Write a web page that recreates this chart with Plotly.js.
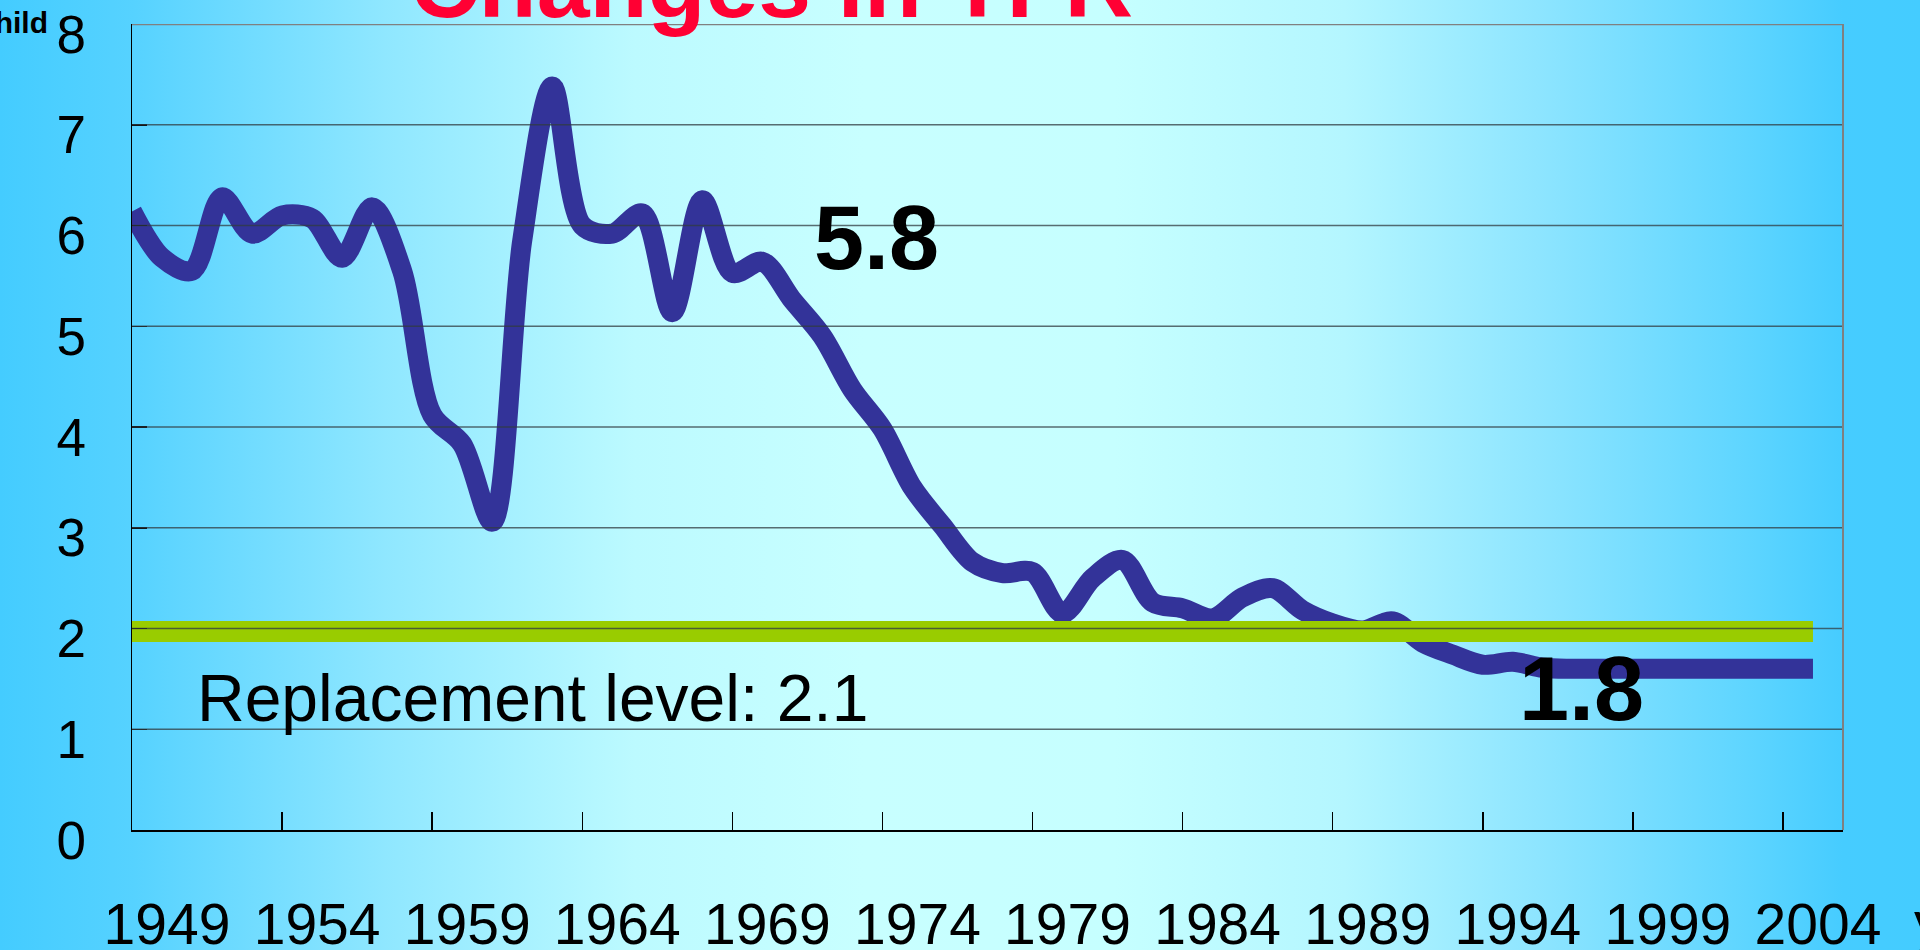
<!DOCTYPE html>
<html>
<head>
<meta charset="utf-8">
<script src="https://cdn.plot.ly/plotly-3.0.1.min.js"></script>
<style>
  html, body { margin: 0; padding: 0; }
  body { width: 1920px; height: 950px; overflow: hidden;
    background: linear-gradient(to right, #44CCFF 0%, #56D2FF 7%, #8FE7FF 20%, #BCFAFF 33%, #C8FFFF 45%, #C6FFFF 58%, #B4F6FF 70%, #8EE5FF 80%, #5ED5FF 91%, #46CCFF 96%, #44CCFF 100%); }
  #chart { width: 1920px; height: 950px; }
</style>
</head>
<body>
<div id="chart"></div>
<script>
// ---- data ----
const years = [1949,1950,1951,1952,1953,1954,1955,1956,1957,1958,1959,1960,1961,1962,1963,1964,1965,1966,1967,1968,
  1969,1970,1971,1972,1973,1974,1975,1976,1977,1978,1979,1980,1981,1982,1983,1984,1985,1986,1987,1988,
  1989,1990,1991,1992,1993,1994,1995,1996,1997,1998,1999,2000,2001,2002,2003,2004,2005];
const tfr = [6.14,5.68,5.55,6.28,5.92,6.10,6.07,5.68,6.18,5.55,4.12,3.83,3.06,5.85,7.38,6.00,5.92,6.12,5.14,6.25,
  5.53,5.64,5.26,4.90,4.37,3.98,3.40,3.02,2.66,2.55,2.56,2.15,2.50,2.68,2.26,2.20,2.10,2.31,2.40,2.18,
  2.05,1.98,2.07,1.86,1.74,1.64,1.67,1.61,1.60,1.60,1.60,1.60,1.60,1.60,1.60,1.60,1.60];
const replacementLevel = 1.97;
const replacementYears = [1949, 2005];
const xTickYears = [1949,1954,1959,1964,1969,1974,1979,1984,1989,1994,1999,2004];
const xTickLabels = ["1949","1954","1959","1964","1969","1974","1979","1984","1989","1994","1999","2004"];
const yTicks = [0,1,2,3,4,5,6,7,8];
const titleText = "Changes in TFR";
const yUnitText = "child";
const xUnitText = "year";
const label58 = {x: 1973.8, y: 5.88, text: "5.8"};
const label18 = {x: 1997.3, y: 1.40, text: "1.8"};
const replacementLabel = {x: 1951.1, y: 1.31, text: "Replacement level: 2.1"};

const FONT = "'Liberation Sans', Arial, sans-serif";

const traces = [
  { x: years, y: tfr, type: 'scatter', mode: 'lines',
    line: { color: '#333399', width: 20, shape: 'spline', smoothing: 0.9 },
    hoverinfo: 'skip' },
  { x: replacementYears, y: replacementYears.map(() => replacementLevel), type: 'scatter', mode: 'lines',
    line: { color: '#99CC00', width: 21 }, hoverinfo: 'skip' }
];

const shapes = yTicks.filter(v => v > 0).map(v => ({
  type: 'line', xref: 'paper', x0: 0, x1: 1, yref: 'y', y0: v, y1: v, layer: 'above',
  line: { color: v === 8 ? 'rgba(128,128,128,1)' : 'rgba(50,60,65,0.75)', width: v === 8 ? 2.5 : 1.6 }
}));
shapes.push({ type: 'line', xref: 'paper', x0: 1, x1: 1, yref: 'paper', y0: 0, y1: 1, layer: 'above',
  line: { color: 'rgba(128,128,128,1)', width: 2 } });

const layout = {
  width: 1920, height: 950, autosize: false,
  margin: { l: 132, r: 77, t: 24, b: 120 },
  paper_bgcolor: 'rgba(0,0,0,0)', plot_bgcolor: 'rgba(0,0,0,0)',
  showlegend: false,
  font: { family: FONT, color: '#000000' },
  xaxis: {
    range: [1949, 2006], showgrid: false, zeroline: false,
    showline: true, linecolor: '#000000', linewidth: 2,
    ticks: 'inside', ticklen: 18, tickwidth: 1.5, tickcolor: '#000000',
    tickmode: 'array', tickvals: xTickYears, ticktext: xTickLabels,
    tickfont: { family: FONT, size: 57, color: '#000000' },
    ticklabelshift: 35, ticklabelstandoff: 44
  },
  yaxis: {
    range: [0, 8], showgrid: false, zeroline: false,
    showline: true, linecolor: '#000000', linewidth: 1.5,
    ticks: 'inside', ticklen: 15, tickwidth: 1.5, tickcolor: '#000000',
    tickmode: 'array', tickvals: yTicks, ticktext: yTicks.map(String),
    tickfont: { family: FONT, size: 53, color: '#000000' },
    ticklabelshift: 10, ticklabelstandoff: 34, ticklabeloverflow: 'allow'
  },
  shapes: shapes,
  annotations: [
    { xref: 'paper', yref: 'paper', x: 0.3735, y: 0.981, xanchor: 'center', yanchor: 'bottom',
      text: '<b>' + titleText + '</b>', showarrow: false,
      font: { family: FONT, size: 95, color: '#FF0033' } },
    { xref: 'paper', yref: 'paper', x: -0.048, y: 1.002, xanchor: 'right', yanchor: 'middle',
      text: '<b>' + yUnitText + '</b>', showarrow: false,
      font: { family: FONT, size: 30, color: '#000000' } },
    { xref: 'paper', yref: 'paper', x: 1.0403, y: -0.114, xanchor: 'left', yanchor: 'middle',
      text: xUnitText, showarrow: false,
      font: { family: FONT, size: 57, color: '#000000' } },
    { xref: 'x', yref: 'y', x: label58.x, y: label58.y, xanchor: 'center', yanchor: 'middle',
      text: '<b>' + label58.text + '</b>', showarrow: false,
      font: { family: FONT, size: 90, color: '#000000' } },
    { xref: 'x', yref: 'y', x: label18.x, y: label18.y, xanchor: 'center', yanchor: 'middle',
      text: '<b>' + label18.text + '</b>', showarrow: false,
      font: { family: FONT, size: 90, color: '#000000' } },
    { xref: 'x', yref: 'y', x: replacementLabel.x, y: replacementLabel.y, xanchor: 'left', yanchor: 'middle',
      text: replacementLabel.text, showarrow: false,
      font: { family: FONT, size: 66, color: '#000000' } }
  ]
};

Plotly.newPlot('chart', traces, layout, { displayModeBar: false, staticPlot: true });
</script>
</body>
</html>
